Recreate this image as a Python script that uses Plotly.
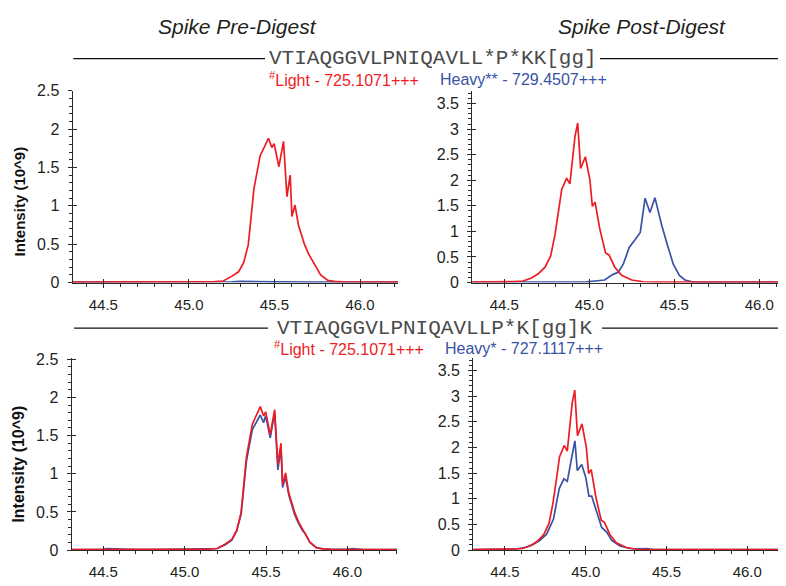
import plotly.graph_objects as go

# ---------------- data (retention time in min, intensity in 10^9) ----------------
light_pre_t = [44.30, 44.40, 44.50, 44.60, 44.70, 44.80, 44.90, 45.00, 45.10, 45.15, 45.20, 45.25,
               45.29, 45.32, 45.347, 45.36, 45.38, 45.416, 45.445, 45.465, 45.485, 45.498, 45.526,
               45.553, 45.573, 45.592, 45.602, 45.62, 45.64, 45.675, 45.70, 45.726, 45.74, 45.77,
               45.81, 45.85, 45.90, 46.00, 46.10, 46.20, 46.32]
light_pre_i = [0.005, 0.005, 0.005, 0.005, 0.005, 0.005, 0.005, 0.008, 0.01, 0.012, 0.02, 0.08,
               0.14, 0.26, 0.49, 0.79, 1.22, 1.65, 1.80, 1.88, 1.76, 1.81, 1.51,
               1.84, 1.12, 1.40, 0.86, 1.01, 0.75, 0.50, 0.37, 0.27, 0.23, 0.10,
               0.03, 0.015, 0.01, 0.01, 0.005, 0.005, 0.005]

heavy1_pre_t = [44.30, 44.50, 44.65, 44.70, 44.80, 44.90, 44.95, 45.00, 45.10, 45.25, 45.30, 45.40,
                45.45, 45.50, 45.55, 45.60, 45.70, 45.80, 45.90, 46.00, 46.25]
heavy1_pre_i = [0.005, 0.005, 0.01, 0.005, 0.01, 0.012, 0.012, 0.008, 0.005, 0.01, 0.015, 0.008,
                0.012, 0.008, 0.01, 0.006, 0.005, 0.005, 0.005, 0.005, 0.005]

heavy2_pre_t = [44.30, 44.40, 44.50, 44.52, 44.60, 44.70, 44.80, 44.90, 45.00, 45.10, 45.15, 45.20,
                45.25, 45.29, 45.32, 45.347, 45.36, 45.38, 45.416, 45.445, 45.465, 45.485, 45.498,
                45.526, 45.553, 45.573, 45.592, 45.602, 45.62, 45.64, 45.675, 45.70, 45.726, 45.74,
                45.77, 45.81, 45.85, 45.90, 46.00, 46.03, 46.10, 46.32]
heavy2_pre_i = [0.005, 0.005, 0.01, 0.02, 0.01, 0.005, 0.005, 0.008, 0.01, 0.01, 0.012, 0.02,
                0.07, 0.13, 0.25, 0.47, 0.75, 1.17, 1.58, 1.70, 1.77, 1.67, 1.76,
                1.47, 1.80, 1.05, 1.34, 0.82, 0.96, 0.72, 0.47, 0.35, 0.25, 0.22,
                0.10, 0.03, 0.015, 0.01, 0.01, 0.02, 0.005, 0.005]

light_post_t = [44.30, 44.40, 44.50, 44.553, 44.61, 44.66, 44.70, 44.74, 44.773, 44.798, 44.818,
                44.838, 44.867, 44.886, 44.916, 44.932, 44.949, 44.977, 45.004, 45.018, 45.034,
                45.063, 45.096, 45.116, 45.15, 45.19, 45.25, 45.318, 45.40, 45.50, 45.60, 45.70,
                45.80, 45.90, 46.00, 46.10, 46.25]
light_post_i = [0.01, 0.01, 0.015, 0.02, 0.03, 0.09, 0.17, 0.30, 0.52, 0.93, 1.37,
                1.82, 2.04, 1.93, 2.86, 3.12, 2.23, 2.46, 2.00, 1.49, 1.57,
                1.03, 0.58, 0.54, 0.30, 0.14, 0.05, 0.015, 0.01, 0.01, 0.01, 0.01,
                0.01, 0.008, 0.01, 0.01, 0.01]

heavy1_post_t = [44.30, 44.50, 44.70, 44.90, 44.985, 45.034, 45.09, 45.14, 45.17, 45.20, 45.234,
                 45.27, 45.30, 45.328, 45.357, 45.386, 45.426, 45.459, 45.494, 45.53, 45.563,
                 45.61, 45.70, 45.80, 45.90, 46.00, 46.25]
heavy1_post_i = [0.01, 0.01, 0.01, 0.01, 0.012, 0.03, 0.05, 0.16, 0.20, 0.36, 0.68,
                 0.84, 0.98, 1.65, 1.37, 1.66, 1.12, 0.74, 0.36, 0.14, 0.05,
                 0.01, 0.01, 0.01, 0.012, 0.01, 0.01]

heavy2_post_t = [44.30, 44.40, 44.50, 44.572, 44.634, 44.675, 44.717, 44.758, 44.80, 44.836,
                 44.865, 44.886, 44.913, 44.933, 44.948, 44.975, 45.00, 45.02, 45.037, 45.068,
                 45.099, 45.13, 45.161, 45.212, 45.274, 45.33, 45.377, 45.42, 45.50, 45.60,
                 45.70, 45.80, 45.90, 46.00, 46.10, 46.25]
heavy2_post_i = [0.01, 0.01, 0.01, 0.02, 0.06, 0.11, 0.19, 0.31, 0.60, 1.20,
                 1.39, 1.34, 1.80, 2.13, 1.55, 1.67, 1.42, 1.05, 1.05, 0.73,
                 0.44, 0.35, 0.19, 0.08, 0.03, 0.025, 0.03, 0.01, 0.01, 0.01,
                 0.01, 0.01, 0.01, 0.01, 0.01, 0.01]

col_titles = ["Spike Pre-Digest", "Spike Post-Digest"]
peptides = ["VTIAQGGVLPNIQAVLL*P*KK[gg]", "VTIAQGGVLPNIQAVLLP*K[gg]K"]
light_labels = ["<sup>#</sup>Light - 725.1071+++", "<sup>#</sup>Light - 725.1071+++"]
heavy_labels = ["Heavy** - 729.4507+++", "Heavy* - 727.1117+++"]
y_title = "Intensity (10^9)"
x_tickvals = [44.5, 45.0, 45.5, 46.0]
x_ticktext = ["44.5", "45.0", "45.5", "46.0"]

# ---------------- styling ----------------
W, H = 786, 586
OFF = 8  # page body margin: the figure is drawn 8 px right/down of the window corner
RED = "#ED1C24"
BLUE = "#3953A4"
AX = "#2b2b2b"
FONT = "Arial, Liberation Sans, sans-serif"
MONO = "Courier New, Liberation Mono, monospace"


def fx(p):
    return (p - OFF) / W


def fy(p):
    return 1 - (p - OFF) / H


# panel geometry in window pixels: x-domain, y-domain (bottom, top), ranges
panels = [
    dict(xd=(72.7, 398.0), yd=(282.5, 85.0), xr=(44.321, 46.222), yr=(0, 2.5),
         series=[(heavy1_pre_t, heavy1_pre_i, BLUE), (light_pre_t, light_pre_i, RED)]),
    dict(xd=(472.3, 786.0), yd=(282.5, 85.0), xr=(44.312, 46.157), yr=(0, 3.75),
         series=[(heavy1_post_t, heavy1_post_i, BLUE), (light_post_t, light_post_i, RED)]),
    dict(xd=(71.7, 397.0), yd=(558.0, 360.0), xr=(44.306, 46.305), yr=(0, 2.52),
         series=[(heavy2_pre_t, heavy2_pre_i, BLUE), (light_pre_t, light_pre_i, RED)]),
    dict(xd=(473.3, 786.0), yd=(558.0, 360.0), xr=(44.304, 46.24), yr=(0, 3.75),
         series=[(heavy2_post_t, heavy2_post_i, BLUE), (light_post_t, light_post_i, RED)]),
]

fig = go.Figure()
layout = dict(
    width=W, height=H, margin=dict(l=0, r=0, t=0, b=0),
    paper_bgcolor="white", plot_bgcolor="white", showlegend=False,
    font=dict(family=FONT, color="#231f20"),
)

for k, p in enumerate(panels, start=1):
    xs = "" if k == 1 else str(k)
    ov = str(k + 4)
    for t, i, c in p["series"]:
        fig.add_trace(go.Scatter(x=t, y=i, mode="lines", line=dict(color=c, width=1.7),
                                 xaxis="x" + xs, yaxis="y" + xs, hoverinfo="skip"))
    # empty trace to realise the overlay (crossing-tick) axes
    fig.add_trace(go.Scatter(x=[], y=[], xaxis="x" + ov, yaxis="y" + ov))

    xdom = [fx(p["xd"][0]), min(1.0, fx(p["xd"][1]))]
    ydom = [fy(p["yd"][0]), fy(p["yd"][1])]
    common_x = dict(range=list(p["xr"]), tickmode="array", tickvals=x_tickvals,
                    showgrid=False, zeroline=False)
    common_y = dict(range=list(p["yr"]), tickmode="linear", tick0=0, dtick=0.5,
                    showgrid=False, zeroline=False)
    layout["xaxis" + xs] = dict(
        **common_x, domain=xdom, anchor="y" + xs, ticktext=x_ticktext,
        showline=True, linecolor=AX, linewidth=1.4,
        ticks="outside", ticklen=4, tickwidth=1.2, tickcolor=AX,
        tickfont=dict(size=15, family=FONT, color="#231f20"), ticklabelstandoff=4,
        minor=dict(tickmode="linear", tick0=44.5, dtick=0.1, ticks="outside",
                   ticklen=3, tickwidth=1, tickcolor=AX),
    )
    layout["yaxis" + xs] = dict(
        **common_y, domain=ydom, anchor="x" + xs,
        showline=True, linecolor=AX, linewidth=1.4,
        ticks="outside", ticklen=4, tickwidth=1.2, tickcolor=AX,
        tickfont=dict(size=16, family=FONT, color="#231f20"), ticklabelstandoff=5,
        minor=dict(tickmode="linear", tick0=0, dtick=0.1, ticks="outside",
                   ticklen=3, tickwidth=1, tickcolor=AX),
    )
    # overlay axes: inside half of the crossing major ticks
    layout["xaxis" + ov] = dict(
        **common_x, overlaying="x" + xs, anchor="y" + xs, side="bottom",
        showline=False, showticklabels=False, ticks="inside", ticklen=4,
        tickwidth=1.2, tickcolor=AX,
    )
    layout["yaxis" + ov] = dict(
        **common_y, overlaying="y" + xs, anchor="x" + xs, side="left",
        showline=False, showticklabels=False, ticks="inside", ticklen=4,
        tickwidth=1.2, tickcolor=AX,
    )

annotations = []
# column titles
for txt, cx in zip(col_titles, [237, 642]):
    annotations.append(dict(text=txt, x=fx(cx), y=fy(19), xref="paper", yref="paper",
                            xanchor="center", yanchor="middle", showarrow=False,
                            font=dict(family=FONT, size=21, style="italic", color="#231f20")))

# peptide header rows
rows = [
    dict(cx=433, cy=52, line=((73.3, 265), (600, 786)), ly=73, lx=(266.7, 438)),
    dict(cx=434.5, cy=329.5, line=((74, 268), (602, 786)), ly=350, lx=(271.7, 443)),
]
shapes = []
for r, pep, ll, hl in zip(rows, peptides, light_labels, heavy_labels):
    annotations.append(dict(text=pep, x=fx(r["cx"]), y=fy(r["cy"]), xref="paper", yref="paper",
                            xanchor="center", yanchor="middle", showarrow=False,
                            font=dict(family=MONO, size=21, color="#4a4a4a")))
    yl = fy(r["cy"])
    for (a, b) in r["line"]:
        shapes.append(dict(type="line", xref="paper", yref="paper", x0=fx(a), x1=fx(b),
                           y0=yl, y1=yl, line=dict(color="#111111", width=1.3)))
    annotations.append(dict(text=ll, x=fx(r["lx"][0]), y=fy(r["ly"]), xref="paper", yref="paper",
                            xanchor="left", yanchor="middle", showarrow=False,
                            font=dict(family=FONT, size=16, color=RED)))
    annotations.append(dict(text=hl, x=fx(r["lx"][1]), y=fy(r["ly"]), xref="paper", yref="paper",
                            xanchor="left", yanchor="middle", showarrow=False,
                            font=dict(family=FONT, size=16, color=BLUE)))

# y-axis titles
for cy, sz in [(199, 15), (470, 16)]:
    annotations.append(dict(text="<b>" + y_title + "</b>", x=fx(19), y=fy(cy), xref="paper",
                            yref="paper", xanchor="center", yanchor="middle", textangle=-90,
                            showarrow=False, font=dict(family=FONT, size=sz, color="#111111")))

layout["annotations"] = annotations
layout["shapes"] = shapes
fig.update_layout(**layout)
fig.write_html("out.html")
